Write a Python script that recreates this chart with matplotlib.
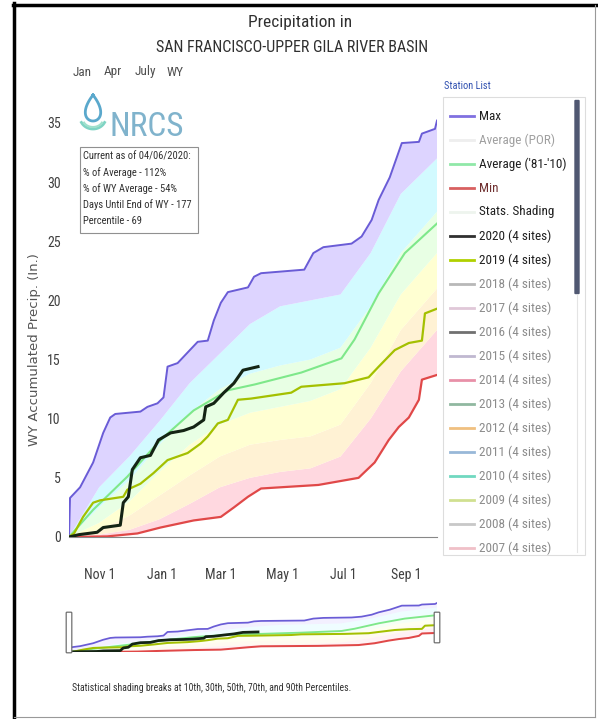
import numpy as np
import matplotlib
matplotlib.use("Agg")
import matplotlib.pyplot as plt
from matplotlib import font_manager as fm
from matplotlib.patches import Rectangle, FancyBboxPatch
from matplotlib.lines import Line2D

# precipitation, water year day (0 = Oct 1) vs accumulated inches
max_days = [0, 1, 11, 24, 34, 41, 46, 71, 78, 88, 94, 98, 108, 118, 128, 138, 144, 151,
            158, 178, 184, 191, 234, 243, 253, 281, 291, 301, 308, 319, 331, 348, 351, 364, 366]
max_vals = [0, 3.3, 4.2, 6.3, 8.8, 10.1, 10.4, 10.6, 11.0, 11.3, 11.8, 14.4, 14.7, 15.6, 16.5,
            16.6, 18.3, 19.8, 20.7, 21.1, 22.0, 22.3, 22.6, 24.0, 24.5, 24.8, 25.4, 26.8, 28.5,
            30.4, 33.3, 33.4, 34.1, 34.5, 35.2]

avg_days = [0, 24, 58, 91, 124, 158, 185, 231, 271, 284, 308, 334, 366]
avg_vals = [0, 2.3, 5.1, 8.2, 10.7, 12.4, 12.9, 13.9, 15.1, 16.7, 20.6, 24.0, 26.5]

min_days = [0, 38, 68, 91, 124, 151, 164, 178, 191, 248, 288, 304, 318, 328, 338, 348, 351, 366]
min_vals = [0, 0.05, 0.3, 0.8, 1.4, 1.7, 2.5, 3.4, 4.1, 4.4, 5.0, 6.3, 8.2, 9.3, 10.1, 11.6,
            13.3, 13.7]

wy2019_days = [0, 5, 14, 24, 31, 54, 58, 71, 84, 98, 118, 131, 138, 148, 158, 168, 181, 221,
               231, 274, 298, 308, 324, 338, 351, 354, 366]
wy2019_vals = [0, 0.3, 1.7, 2.9, 3.1, 3.4, 4.0, 4.5, 5.4, 6.5, 7.1, 7.9, 8.5, 9.6, 9.9, 11.6,
               11.7, 12.2, 12.7, 13.0, 13.5, 14.4, 15.8, 16.4, 16.6, 18.9, 19.3]

wy2020_days = [0, 10, 28, 34, 51, 54, 59, 63, 71, 81, 89, 101, 114, 124, 134, 136, 144, 154,
               164, 173, 188]
wy2020_vals = [0, 0.2, 0.4, 0.8, 1.0, 2.9, 3.4, 5.7, 6.7, 6.9, 8.2, 8.8, 9.0, 9.3, 9.9, 11.0,
               11.3, 12.2, 13.0, 14.1, 14.4]

# percentile curves for the statistical shading
pct_days = [0, 30, 60, 90, 120, 150, 180, 210, 240, 270, 300, 330, 366]
p10 = [0, 0.2, 0.6, 1.5, 2.8, 4.2, 5.0, 5.5, 5.8, 6.8, 10.0, 14.0, 17.5]
p30 = [0, 0.6, 1.8, 3.5, 5.2, 6.8, 7.8, 8.2, 8.5, 9.5, 13.0, 17.5, 21.0]
p50 = [0, 1.2, 3.0, 5.5, 7.8, 9.5, 10.5, 11.0, 11.5, 12.5, 16.0, 20.5, 24.0]
p70 = [0, 2.5, 4.8, 7.8, 10.5, 12.5, 13.8, 14.5, 15.0, 16.0, 19.5, 24.0, 27.5]
p90 = [0, 4.2, 6.8, 9.8, 13.0, 15.5, 18.0, 19.5, 20.0, 20.5, 24.0, 29.0, 32.0]

tick_days = [31, 92, 151, 212, 273, 335]
tick_labels = ["Nov 1", "Jan 1", "Mar 1", "May 1", "Jul 1", "Sep 1"]

info_lines = ["Current as of 04/06/2020:", "% of Average - 112%", "% of WY Average - 54%",
              "Days Until End of WY - 177", "Percentile - 69"]

legend_labels = ["Max", "Average (POR)", "Average ('81-'10)", "Min", "Stats. Shading",
                 "2020 (4 sites)", "2019 (4 sites)", "2018 (4 sites)", "2017 (4 sites)",
                 "2016 (4 sites)", "2015 (4 sites)", "2014 (4 sites)", "2013 (4 sites)",
                 "2012 (4 sites)", "2011 (4 sites)", "2010 (4 sites)", "2009 (4 sites)",
                 "2008 (4 sites)", "2007 (4 sites)"]
legend_colors = ["#8070e0", "#eeeeee", "#90e8a8", "#d86060", "#eef4ee", "#303030", "#b0d000",
                 "#b8b8b8", "#e0c8d8", "#707070", "#c0b8d0", "#e890a8", "#90b8a0", "#f0c080",
                 "#98b8d8", "#70d8c0", "#d0e090", "#c8c8c8", "#f0c0c8"]
legend_text_colors = ["#202020", "#a0a0a0", "#202020", "#703030", "#202020", "#202020",
                      "#202020"] + ["#8c8c8c"] * 12


def pick(names):
    for n in names:
        try:
            fm.findfont(fm.FontProperties(family=n), fallback_to_default=False)
            return n
        except Exception:
            pass
    return "DejaVu Sans"


NARROW = pick(["Liberation Sans Narrow", "Roboto Condensed", "Liberation Sans"])

band_colors = ["#ffd8e0", "#fff2d4", "#ffffd2", "#e8ffe4", "#d2faff", "#ddd4ff"]
lower = [(min_days, min_vals), (pct_days, p10), (pct_days, p30), (pct_days, p50),
         (pct_days, p70), (pct_days, p90)]
upper = [(pct_days, p10), (pct_days, p30), (pct_days, p50), (pct_days, p70),
         (pct_days, p90), (max_days, max_vals)]


def draw_series(ax, lw_scale=1.0, band_alpha=1.0):
    # statistical shading
    for (ld, lv), (ud, uv), c in zip(lower, upper, band_colors):
        xs = np.r_[ld, ud[::-1]]
        ys = np.r_[lv, uv[::-1]]
        ax.fill(xs, ys, color=c, alpha=band_alpha, lw=0, zorder=1)
    ax.plot(max_days, max_vals, color="#6a5cd6", lw=1.4 * lw_scale, zorder=3)
    ax.plot(avg_days, avg_vals, color="#7ee88a", lw=1.5 * lw_scale, zorder=3)
    ax.plot(min_days, min_vals, color="#e04848", lw=1.6 * lw_scale, zorder=3)
    ax.plot(wy2019_days, wy2019_vals, color="#a4c000", lw=1.6 * lw_scale, zorder=4)
    ax.plot(wy2020_days, wy2020_vals, color="#142414", lw=2.2 * lw_scale, zorder=5)


W, H = 598, 719
fig = plt.figure(figsize=(W / 100, H / 100), dpi=100)
fig.patch.set_facecolor("white")

# main chart
ax = fig.add_axes([69 / W, 1 - 537 / H, 368 / W, 37.5 * 11.83 / H])
draw_series(ax)
ax.set_xlim(0, 366)
ax.set_ylim(0, 37.5)
ax.set_yticks(range(0, 40, 5))
ax.set_xticks(tick_days)
ax.set_xticklabels(tick_labels)
for s in ["top", "right", "left"]:
    ax.spines[s].set_visible(False)
ax.spines["bottom"].set_color("#888888")
ax.tick_params(axis="both", length=0, labelsize=10, labelcolor="#404040")
ax.tick_params(axis="x", pad=22)
ax.tick_params(axis="y", pad=6)
for lab in ax.get_xticklabels() + ax.get_yticklabels():
    lab.set_family(NARROW)
ax.set_facecolor("none")

# navigator
nav = fig.add_axes([69 / W, 1 - 652 / H, 368 / W, 38 * 1.392 / H])
draw_series(nav, lw_scale=0.9, band_alpha=0.35)
nav.set_xlim(0, 366)
nav.set_ylim(0, 38)
nav.axis("off")

# overlay in pixel coordinates for frame, legend, logo, info box
deco = fig.add_axes([0, 0, 1, 1])
deco.set_xlim(0, W)
deco.set_ylim(H, 0)
deco.axis("off")

deco.plot([14, 14], [3, 717], color="black", lw=2.5)
deco.plot([13, 598], [4.5, 4.5], color="black", lw=2.5)
deco.plot([595, 595], [5, 717], color="#999999", lw=0.8)
deco.plot([14, 595], [717, 717], color="#999999", lw=0.8)

deco.text(300, 22, "Precipitation in", ha="center", va="center", fontsize=12.5,
          family=NARROW, color="#303030")
deco.text(292, 48, "SAN FRANCISCO-UPPER GILA RIVER BASIN", ha="center", va="center",
          fontsize=11.5, family=NARROW, color="#303030")

for lbl, x in zip(["Jan", "Apr", "July", "WY"], [82, 113, 145, 175]):
    deco.text(x, 72, lbl, ha="center", va="center", fontsize=9.5, family=NARROW, color="#505050")

deco.text(35, 350, "WY Accumulated Precip. (In.)", rotation=90, ha="center", va="center",
          fontsize=9.5, color="#555555")

# NRCS logo
t = np.linspace(0, 2 * np.pi, 80)
deco.plot(93 + 10 * np.sin(t) * np.sin(t / 2), 108 - 13 * np.cos(t), color="#5aa8cc", lw=2)
a = np.linspace(0.15 * np.pi, 0.85 * np.pi, 30)
deco.plot(93 + 13 * np.cos(a), 117 + 12 * np.sin(a), color="#7fd4c4", lw=2)
deco.plot(93 + 10 * np.cos(a), 119 + 8 * np.sin(a), color="#9fe0cc", lw=1.5)
deco.text(110, 136, "NRCS", ha="left", va="baseline", fontsize=24, family=NARROW,
          color="#6aa6c4", alpha=0.85)

# info box
deco.add_patch(Rectangle((80, 147), 118, 86, fill=False, ec="#909090", lw=0.8))
for i, line in enumerate(info_lines):
    deco.text(83, 157 + 16 * i, line, ha="left", va="center", fontsize=7.6, family=NARROW,
              color="#303030")

# legend panel
deco.text(444, 86, "Station List", ha="left", va="center", fontsize=7.5, family=NARROW,
          color="#3050b0")
deco.add_patch(Rectangle((443, 97), 142, 458, fill=False, ec="#dddddd", lw=0.8))
deco.add_patch(FancyBboxPatch((575.5, 101), 3, 192, boxstyle="round,pad=0.5",
                              fc="#505872", ec="#505872"))
deco.plot([577, 577], [295, 552], color="#e4e4e4", lw=0.8)
for i, (lab, lc, tc) in enumerate(zip(legend_labels, legend_colors, legend_text_colors)):
    y = 116 + 24 * i
    deco.add_line(Line2D([450, 474], [y, y], color=lc, lw=2))
    deco.text(479, y, lab, ha="left", va="center", fontsize=9.5, family=NARROW, color=tc)

# navigator handles
for x, y0, h in [(69, 613, 39), (437, 613, 29)]:
    deco.add_patch(FancyBboxPatch((x - 2, y0), 4, h, boxstyle="round,pad=0.8",
                                  fc="white", ec="#707070", lw=0.9))

deco.text(72, 688, "Statistical shading breaks at 10th, 30th, 50th, 70th, and 90th Percentiles.",
          ha="left", va="center", fontsize=7, family=NARROW, color="#303030")

fig.savefig("out.png", dpi=100)
